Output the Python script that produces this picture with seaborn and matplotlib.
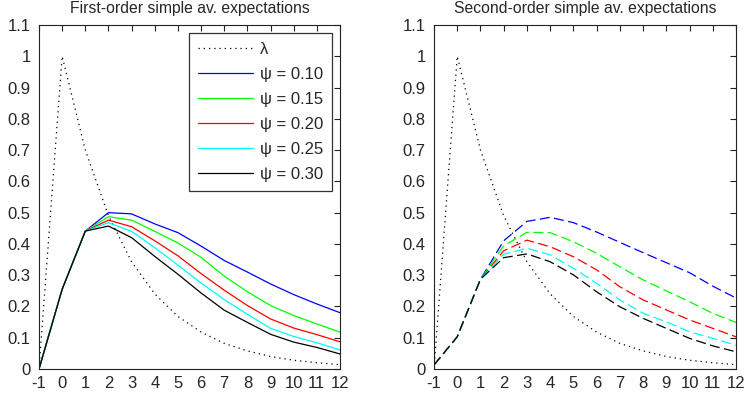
import matplotlib
matplotlib.use("Agg")
import matplotlib.pyplot as plt
import numpy as np
import pandas as pd
import seaborn as sns

# Horizon (quarters) and the weight path lambda
horizon = [-1, 0, 1, 2, 3, 4, 5, 6, 7, 8, 9, 10, 11, 12]
lam = [0.0, 1.0, 0.70, 0.49, 0.343, 0.24, 0.168, 0.118, 0.082, 0.058, 0.040, 0.028, 0.020, 0.014]

psi_labels = ["0.10", "0.15", "0.20", "0.25", "0.30"]
psi_colors = ["#0000ff", "#00ff00", "#ff0000", "#00ffff", "#000000"]

# First-order simple average expectations, one list per psi
first_010 = [0.0, 0.255, 0.441, 0.500, 0.496, 0.464, 0.436, 0.393, 0.347, 0.310, 0.272, 0.238, 0.208, 0.180]
first_015 = [0.0, 0.255, 0.441, 0.487, 0.476, 0.440, 0.403, 0.357, 0.297, 0.247, 0.203, 0.171, 0.144, 0.118]
first_020 = [0.0, 0.255, 0.441, 0.476, 0.455, 0.410, 0.362, 0.305, 0.252, 0.203, 0.160, 0.131, 0.110, 0.087]
first_025 = [0.0, 0.255, 0.441, 0.468, 0.440, 0.388, 0.332, 0.275, 0.222, 0.175, 0.130, 0.104, 0.084, 0.061]
first_030 = [0.0, 0.255, 0.441, 0.457, 0.420, 0.360, 0.303, 0.243, 0.188, 0.149, 0.111, 0.086, 0.069, 0.048]

# Second-order simple average expectations, one list per psi
second_010 = [0.013, 0.103, 0.287, 0.410, 0.472, 0.485, 0.468, 0.438, 0.405, 0.372, 0.340, 0.308, 0.265, 0.227]
second_015 = [0.013, 0.103, 0.287, 0.394, 0.437, 0.436, 0.407, 0.370, 0.327, 0.285, 0.250, 0.215, 0.178, 0.149]
second_020 = [0.013, 0.103, 0.287, 0.378, 0.412, 0.391, 0.359, 0.317, 0.263, 0.221, 0.189, 0.157, 0.130, 0.103]
second_025 = [0.013, 0.103, 0.287, 0.367, 0.386, 0.365, 0.322, 0.274, 0.221, 0.178, 0.151, 0.119, 0.098, 0.076]
second_030 = [0.013, 0.103, 0.287, 0.356, 0.368, 0.343, 0.301, 0.247, 0.199, 0.162, 0.130, 0.098, 0.074, 0.055]

first_series = [first_010, first_015, first_020, first_025, first_030]
second_series = [second_010, second_015, second_020, second_025, second_030]

sns.set_style("white")
plt.rcParams["font.family"] = ["Liberation Sans", "DejaVu Sans"]
plt.rcParams["font.size"] = 10

fig = plt.figure(figsize=(7.46, 4.03), dpi=100)
W, H = 746, 403
ax1 = fig.add_axes([39 / W, (H - 369) / H, 301 / W, 344 / H])
ax2 = fig.add_axes([434 / W, (H - 369) / H, 302 / W, 344 / H])

LW = 0.9
dotted = (0, (1.0, 3.2))
dashed = (0, (8.0, 3.5))


def draw(ax, series, ls, title):
    sns.lineplot(x=horizon, y=lam, ax=ax, color="black", lw=LW,
                 linestyle=dotted, label="λ")
    for vals, lab, col in zip(series, psi_labels, psi_colors):
        sns.lineplot(x=horizon, y=vals, ax=ax, color=col, lw=LW,
                     linestyle=ls, label=f"ψ = {lab}")
    ax.set_xlim(-1, 12)
    ax.set_ylim(0, 1.1)
    ax.set_xticks(horizon)
    ax.set_xticklabels([str(h) for h in horizon])
    yt = np.round(np.arange(0, 1.11, 0.1), 1)
    ax.set_yticks(yt)
    ax.set_yticklabels(["0" if v == 0 else ("1" if v == 1 else f"{v:g}") for v in yt])
    ax.tick_params(direction="in", length=4, width=0.8, color="#222222",
                   top=True, right=True, labelsize=12, pad=5)
    ax.tick_params(axis="y", pad=6)
    for s in ax.spines.values():
        s.set_visible(True)
        s.set_color("#222222")
        s.set_linewidth(0.8)
    ax.set_xlabel("")
    ax.set_ylabel("")
    ax.set_title(title, fontsize=11.3, pad=8.5)


draw(ax1, first_series, "-", "First-order simple av. expectations")
draw(ax2, second_series, dashed, "Second-order simple av. expectations")

leg = ax1.legend(loc="upper right", bbox_to_anchor=((332 - 39) / 301, (369 - 33) / 344),
                 borderaxespad=0, fancybox=False, frameon=True, edgecolor="black",
                 fontsize=12, handlelength=3.3, labelspacing=0.6, handletextpad=0.4,
                 borderpad=0.55)
leg.get_frame().set_linewidth(0.9)
ax2.get_legend().remove()

fig.savefig("out.png", dpi=100, facecolor="white")
